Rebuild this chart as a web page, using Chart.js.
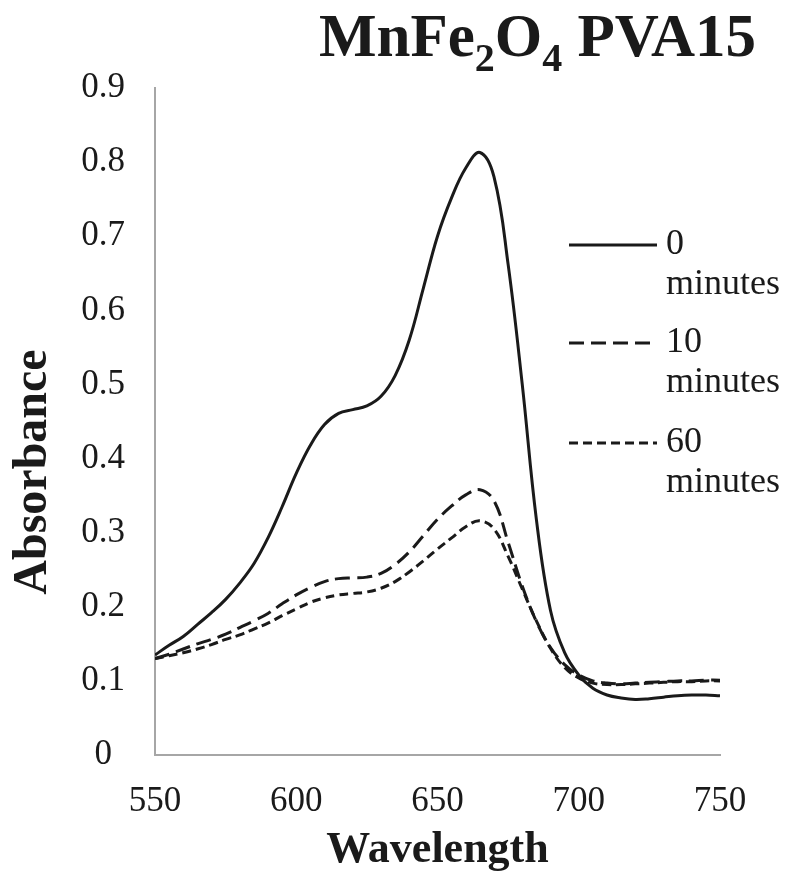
<!DOCTYPE html>
<html>
<head>
<meta charset="utf-8">
<script src="https://cdn.jsdelivr.net/npm/chart.js@4"></script>
<style>
  html, body { margin: 0; padding: 0; background: #fff; }
  #wrap { width: 791px; height: 873px; }
</style>
</head>
<body>
<div id="wrap"><canvas id="absorbancia"></canvas></div>
<script>
  // data
  const wavelength = [550,555,560,565,570,575,580,585,590,595,600,605,610,615,620,625,630,635,640,645,650,
                      655,660,665,670,675,680,685,690,695,700,705,710,715,720,725,730,735,740,745,750];
  const min0  = [0.135,0.148,0.160,0.176,0.192,0.210,0.232,0.258,0.293,0.335,0.380,0.418,0.446,0.461,0.466,0.471,0.484,0.512,0.560,0.630,0.700,
                 0.752,0.792,0.813,0.780,0.662,0.500,0.318,0.195,0.138,0.108,0.090,0.081,0.077,0.075,0.076,0.078,0.080,0.081,0.081,0.080];
  const min10 = [0.130,0.136,0.143,0.150,0.156,0.163,0.172,0.181,0.191,0.204,0.216,0.226,0.234,0.238,0.239,0.240,0.245,0.257,0.274,0.296,0.318,
                 0.336,0.351,0.358,0.343,0.287,0.228,0.180,0.145,0.122,0.108,0.100,0.097,0.096,0.097,0.098,0.099,0.100,0.100,0.101,0.101];
  const min60 = [0.130,0.134,0.138,0.143,0.149,0.156,0.162,0.170,0.178,0.188,0.197,0.206,0.212,0.216,0.218,0.220,0.225,0.234,0.247,0.262,0.278,
                 0.293,0.308,0.316,0.305,0.268,0.224,0.181,0.144,0.118,0.104,0.097,0.095,0.095,0.096,0.097,0.098,0.099,0.099,0.100,0.100];
  const seriesNames = ['0 minutes', '10 minutes', '60 minutes'];
  const yTicks = [0, 0.1, 0.2, 0.3, 0.4, 0.5, 0.6, 0.7, 0.8, 0.9];
  const xTicks = [550, 600, 650, 700, 750];

  const pts = arr => arr.map((v, i) => ({ x: wavelength[i], y: v }));

  const serif = '"Liberation Serif", "Times New Roman", serif';

  // title with subscripts, y axis title and legend are drawn here
  const extras = {
    id: 'extras',
    afterDraw(chart) {
      const ctx = chart.ctx;
      ctx.save();
      ctx.fillStyle = '#1a1a1a';

      // title: MnFe2O4 PVA15
      const parts = [['MnFe', false], ['2', true], ['O', false], ['4', true], [' PVA15', false]];
      const big = 'bold 61px ' + serif, small = 'bold 40px ' + serif;
      let w = 0;
      parts.forEach(p => { ctx.font = p[1] ? small : big; w += ctx.measureText(p[0]).width; });
      let x = 756 - w;
      ctx.textBaseline = 'alphabetic';
      ctx.textAlign = 'left';
      parts.forEach(p => {
        ctx.font = p[1] ? small : big;
        ctx.fillText(p[0], x, p[1] ? 71 : 56);
        x += ctx.measureText(p[0]).width;
      });

      // y axis title
      ctx.save();
      ctx.translate(34, 472);
      ctx.rotate(-Math.PI / 2);
      ctx.font = 'bold 48px ' + serif;
      ctx.textAlign = 'center';
      ctx.textBaseline = 'middle';
      ctx.fillText('Absorbance', 0, 0);
      ctx.restore();

      // legend
      const rows = [245, 343, 443];
      chart.data.datasets.forEach((ds, i) => {
        const y = rows[i];
        ctx.strokeStyle = ds.borderColor;
        ctx.lineWidth = ds.borderWidth;
        ctx.setLineDash(ds.borderDash || []);
        ctx.beginPath();
        ctx.moveTo(569, y);
        ctx.lineTo(657, y);
        ctx.stroke();
        ctx.setLineDash([]);
        const words = ds.label.split(' ');
        ctx.font = '36px ' + serif;
        ctx.textAlign = 'left';
        ctx.textBaseline = 'middle';
        ctx.fillText(words[0], 666, y);
        ctx.fillText(words[1], 666, y + 40);
      });
      ctx.restore();
    }
  };

  Chart.defaults.color = '#1a1a1a';
  Chart.defaults.font.family = serif;

  new Chart(document.getElementById('absorbancia'), {
    type: 'line',
    data: {
      datasets: [{
        label: seriesNames[0],
        data: pts(min0),
        borderColor: '#1a1a1a',
        borderWidth: 3,
        borderDash: []
      }, {
        label: seriesNames[1],
        data: pts(min10),
        borderColor: '#1a1a1a',
        borderWidth: 3,
        borderDash: [15, 7]
      }, {
        label: seriesNames[2],
        data: pts(min60),
        borderColor: '#1a1a1a',
        borderWidth: 3,
        borderDash: [9, 5]
      }]
    },
    options: {
      responsive: true,
      maintainAspectRatio: false,
      animation: false,
      layout: { padding: { left: 0, top: 88, right: 71, bottom: 0 } },
      elements: {
        point: { radius: 0 },
        line: { tension: 0.4 }
      },
      plugins: {
        legend: { display: false },
        tooltip: { enabled: false }
      },
      scales: {
        x: {
          type: 'linear',
          min: 550,
          max: 750,
          afterFit: s => { s.height = 118; },
          afterBuildTicks: s => { s.ticks = xTicks.map(v => ({ value: v })); },
          grid: { display: false, drawTicks: false },
          border: { display: true, color: '#a6a6a6', width: 2 },
          ticks: { font: { size: 35 }, padding: 26, maxRotation: 0 },
          title: {
            display: true,
            text: 'Wavelength',
            font: { size: 44, weight: 'bold' },
            padding: { top: 0, bottom: -4 }
          }
        },
        y: {
          min: 0,
          max: 0.9,
          afterFit: s => { s.width = 155; },
          afterBuildTicks: s => { s.ticks = yTicks.map(v => ({ value: v })); },
          grid: { display: false, drawTicks: false },
          border: { display: true, color: '#a6a6a6', width: 2 },
          ticks: { font: { size: 35 }, padding: 30, crossAlign: 'center',
                   callback: v => String(Math.round(v * 10) / 10) }
        }
      }
    },
    plugins: [extras]
  });
</script>
</body>
</html>
